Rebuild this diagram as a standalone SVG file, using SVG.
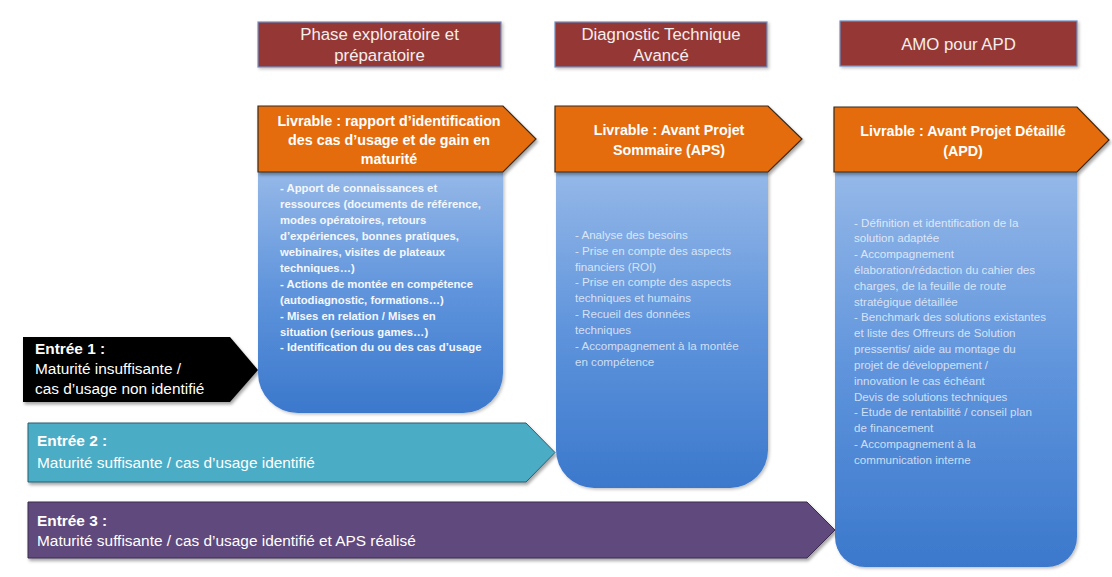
<svg xmlns="http://www.w3.org/2000/svg" width="1112" height="577" viewBox="0 0 1112 577">
<style>
text{font-family:"Liberation Sans",Arial,sans-serif;fill:#ffffff}
.hdr{font-size:16.8px;fill:#f4eeee;text-anchor:middle}
.liv{font-size:14.3px;font-weight:bold;text-anchor:middle}
.b1{font-size:11.3px;font-weight:bold;fill:#f4f7fc}
.b2{font-size:11.6px;fill:#ffffff;fill-opacity:0.72}
.ent{font-size:15.4px}
.entb{font-weight:bold}
.hbox{fill:#953735;stroke:#6f8fc4;stroke-width:1.2}
.orange{fill:#e46c0a;stroke:#3a2a1a;stroke-width:1.2}
.blue{fill:url(#blueGrad)}
</style>
<defs>
<linearGradient id="blueGrad" x1="0" y1="0" x2="0" y2="1">
<stop offset="0" stop-color="#95b8e8"/>
<stop offset="0.5" stop-color="#5f94dc"/>
<stop offset="1" stop-color="#3b78cc"/>
</linearGradient>
<filter id="sh" x="-10%" y="-10%" width="120%" height="130%">
<feDropShadow dx="1.5" dy="2.5" stdDeviation="1.8" flood-color="#000" flood-opacity="0.35"/>
</filter>
<filter id="shb" x="-10%" y="-10%" width="120%" height="120%">
<feDropShadow dx="1.5" dy="1.5" stdDeviation="1.5" flood-color="#000" flood-opacity="0.25"/>
</filter>
</defs>
<rect width="1112" height="577" fill="#ffffff"/>

<g id="header-phase">
<rect class="hbox" x="258" y="22" width="243" height="45" filter="url(#shb)"/>
<text class="hdr" x="379.5" y="40">Phase exploratoire et</text>
<text class="hdr" x="379.5" y="61">préparatoire</text>
</g>
<g id="header-diagnostic">
<rect class="hbox" x="555" y="22" width="212" height="45" filter="url(#shb)"/>
<text class="hdr" x="661" y="40">Diagnostic Technique</text>
<text class="hdr" x="661" y="61">Avancé</text>
</g>
<g id="header-amo">
<rect class="hbox" x="840" y="21" width="237" height="45" filter="url(#shb)"/>
<text class="hdr" x="958.5" y="50">AMO pour APD</text>
</g>

<g id="entree-1">
<polygon points="23,337 230,337 258,370 230,402 23,402" fill="#000000" filter="url(#sh)"/>
<text class="ent" x="35" y="354"><tspan class="entb">Entrée 1 :</tspan></text>
<text class="ent" x="35" y="374">Maturité insuffisante /</text>
<text class="ent" x="35" y="394">cas d’usage non identifié</text>
</g>
<g id="entree-2">
<polygon points="28,423 526,423 555,452.5 526,482 28,482" fill="#4bacc6" stroke="#2b5f6e" stroke-width="1" filter="url(#sh)"/>
<text class="ent" x="37" y="446"><tspan class="entb">Entrée 2 :</tspan></text>
<text class="ent" x="37" y="468">Maturité suffisante / cas d’usage identifié</text>
</g>
<g id="entree-3">
<polygon points="28,502 807,502 835,530 807,558 28,558" fill="#604a7b" stroke="#3a2c4c" stroke-width="1" filter="url(#sh)"/>
<text class="ent" x="37" y="526"><tspan class="entb">Entrée 3 :</tspan></text>
<text class="ent" x="37" y="546">Maturité suffisante / cas d’usage identifié et APS réalisé</text>
</g>

<g id="contenu-phase">
<path class="blue" d="M258,172 H503 V373 A40,40 0 0 1 463,413 H298 A40,40 0 0 1 258,373 Z" filter="url(#shb)"/>
<text class="b1" x="280" y="192">- Apport de connaissances et</text>
<text class="b1" x="280" y="208">ressources (documents de référence,</text>
<text class="b1" x="280" y="224">modes opératoires, retours</text>
<text class="b1" x="280" y="240">d’expériences, bonnes pratiques,</text>
<text class="b1" x="280" y="256">webinaires, visites de plateaux</text>
<text class="b1" x="280" y="272">techniques…)</text>
<text class="b1" x="280" y="288">- Actions de montée en compétence</text>
<text class="b1" x="280" y="304">(autodiagnostic, formations…)</text>
<text class="b1" x="280" y="320">- Mises en relation / Mises en</text>
<text class="b1" x="280" y="336">situation (serious games…)</text>
<text class="b1" x="280" y="351">- Identification du ou des cas d’usage</text>
</g>
<g id="contenu-diagnostic">
<path class="blue" d="M556,172 H768 V450 A38,38 0 0 1 730,488 H594 A38,38 0 0 1 556,450 Z" filter="url(#shb)"/>
<text class="b2" x="575" y="239">- Analyse des besoins</text>
<text class="b2" x="575" y="255">- Prise en compte des aspects</text>
<text class="b2" x="575" y="271">financiers (ROI)</text>
<text class="b2" x="575" y="286">- Prise en compte des aspects</text>
<text class="b2" x="575" y="302">techniques et humains</text>
<text class="b2" x="575" y="318">- Recueil des données</text>
<text class="b2" x="575" y="334">techniques</text>
<text class="b2" x="575" y="350">- Accompagnement à la montée</text>
<text class="b2" x="575" y="366">en compétence</text>
</g>
<g id="contenu-amo">
<path class="blue" d="M835,172 H1077 V537 A30,30 0 0 1 1047,567 H865 A30,30 0 0 1 835,537 Z" filter="url(#shb)"/>
<text class="b2" x="854" y="227">- Définition et identification de la</text>
<text class="b2" x="854" y="242">solution adaptée</text>
<text class="b2" x="854" y="258">- Accompagnement</text>
<text class="b2" x="854" y="274">élaboration/rédaction du cahier des</text>
<text class="b2" x="854" y="290">charges, de la feuille de route</text>
<text class="b2" x="854" y="306">stratégique détaillée</text>
<text class="b2" x="854" y="321">- Benchmark des solutions existantes</text>
<text class="b2" x="854" y="337">et liste des Offreurs de Solution</text>
<text class="b2" x="854" y="353">pressentis/ aide au montage du</text>
<text class="b2" x="854" y="369">projet de développement /</text>
<text class="b2" x="854" y="385">innovation le cas échéant</text>
<text class="b2" x="854" y="401">Devis de solutions techniques</text>
<text class="b2" x="854" y="416">- Etude de rentabilité / conseil plan</text>
<text class="b2" x="854" y="432">de financement</text>
<text class="b2" x="854" y="448">- Accompagnement à la</text>
<text class="b2" x="854" y="464">communication interne</text>
</g>

<g id="livrable-phase">
<polygon class="orange" points="258,106 503,106 536,139 503,172 258,172" filter="url(#sh)"/>
<text class="liv" x="389" y="126">Livrable : rapport d’identification</text>
<text class="liv" x="389" y="145">des cas d’usage et de gain en</text>
<text class="liv" x="389" y="164">maturité</text>
</g>
<g id="livrable-diagnostic">
<polygon class="orange" points="555,106 768,106 802,139 768,172 555,172" filter="url(#sh)"/>
<text class="liv" x="669" y="135">Livrable : Avant Projet</text>
<text class="liv" x="669" y="155">Sommaire (APS)</text>
</g>
<g id="livrable-amo">
<polygon class="orange" points="834,107 1077,107 1109,140 1077,172 834,172" filter="url(#sh)"/>
<text class="liv" x="963" y="136">Livrable : Avant Projet Détaillé</text>
<text class="liv" x="963" y="156">(APD)</text>
</g>
</svg>
